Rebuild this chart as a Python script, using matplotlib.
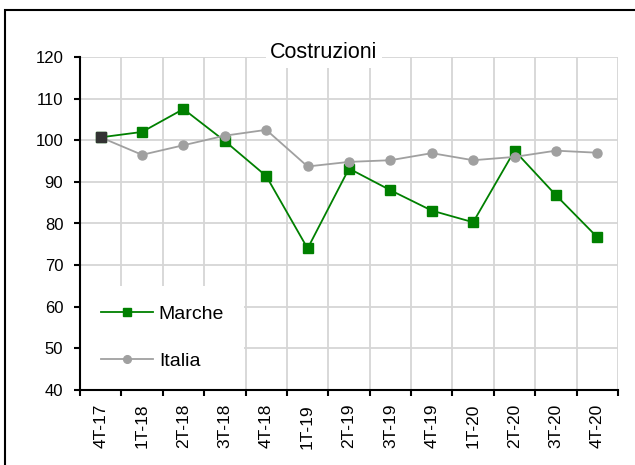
import matplotlib
matplotlib.use("Agg")
from matplotlib import pyplot as plt
from matplotlib.patches import Rectangle

# quarters and index values
quarters = ["4T-17", "1T-18", "2T-18", "3T-18", "4T-18", "1T-19", "2T-19",
            "3T-19", "4T-19", "1T-20", "2T-20", "3T-20", "4T-20"]
marche = [100.7, 102.0, 107.5, 99.8, 91.4, 74.0, 93.2,
          88.0, 83.1, 80.3, 97.5, 86.8, 76.7]
italia = [100.7, 96.5, 98.8, 101.1, 102.5, 93.7, 94.8,
          95.2, 96.9, 95.2, 96.0, 97.5, 97.0]
y_ticks = [40, 50, 60, 70, 80, 90, 100, 110, 120]
title = "Costruzioni"

GREEN = "#008000"
GREY = "#a0a0a0"
GRID = "#d6d6d6"

plt.rcParams["font.family"] = ["Liberation Sans", "DejaVu Sans"]

fig = plt.figure(figsize=(6.35, 4.65), dpi=100)
ax = fig.add_axes([80 / 635, 75 / 465, 538 / 635, 333 / 465])

x = list(range(len(quarters)))
ax.plot(x, marche, color=GREEN, lw=1.3, marker="s", ms=6.5,
        label="Marche", zorder=3)
ax.plot(x, italia, color=GREY, lw=1.3, marker="o", ms=6.5,
        label="Italia", zorder=3)
# first point shared by both series, drawn darker
ax.plot(x[0], marche[0], ls="none", marker="s", ms=6.5, color="#333333",
        zorder=4)

ax.set_xlim(-0.5, len(quarters) - 0.5)
ax.set_ylim(y_ticks[0], y_ticks[-1])
ax.set_yticks(y_ticks)

# category boundaries carry the ticks and the grid, labels sit in the middle
ax.set_xticks([i - 0.5 for i in range(len(quarters) + 1)])
ax.set_xticklabels([])
ax.set_xticks(x, minor=True)
ax.set_xticklabels(quarters, minor=True, rotation=90, fontsize=12.5)
ax.tick_params(axis="x", which="major", length=4, width=1.5, direction="out")
ax.tick_params(axis="x", which="minor", length=0, pad=10)
ax.tick_params(axis="y", length=4, width=1.5, direction="out", pad=8,
               labelsize=12)

ax.grid(True, which="major", color=GRID, lw=1.3)
ax.set_axisbelow(True)
for side in ("top", "right"):
    ax.spines[side].set_visible(False)
for side in ("left", "bottom"):
    ax.spines[side].set_linewidth(1.5)
    ax.spines[side].set_zorder(5)

leg = ax.legend(loc="lower left", bbox_to_anchor=(0.002, 0.002),
                borderaxespad=0, fontsize=14, frameon=True, fancybox=False,
                framealpha=1, edgecolor="white", borderpad=1.0,
                labelspacing=1.5, handlelength=2.7, handletextpad=0.3,
                markerscale=0.85)
leg.get_frame().set_linewidth(0)
leg.set_zorder(4)

fig.text(324 / 635, 1 - 53 / 465, title, ha="center", va="center",
         fontsize=15.5,
         bbox=dict(facecolor="white", edgecolor="none", pad=3))

# outer frame, only the left and top edges fall inside the image
fig.patches.append(Rectangle((5 / 635, -0.1), 1.2, 1 - 10 / 465 + 0.1,
                             transform=fig.transFigure, fill=False,
                             edgecolor="black", lw=1.5))

fig.savefig("out.png", dpi=100)
